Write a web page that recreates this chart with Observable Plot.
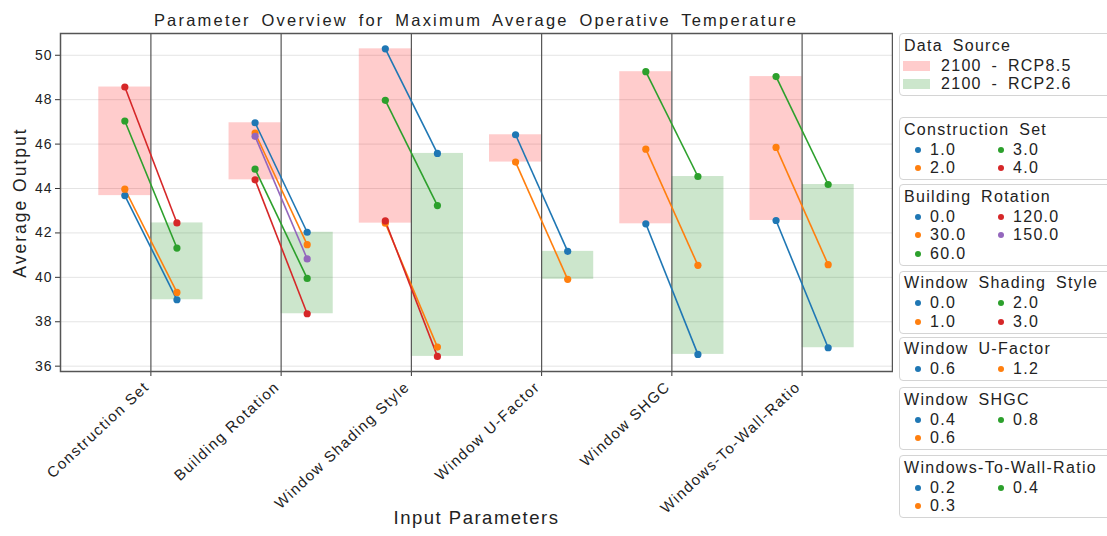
<!DOCTYPE html>
<html><head><meta charset="utf-8">
<script src="https://cdn.jsdelivr.net/npm/d3@7"></script>
<script src="https://cdn.jsdelivr.net/npm/@observablehq/plot@0.6"></script>
<style>
body{margin:0;background:#fff;font-family:"Liberation Sans",Arial,sans-serif;color:#222;}
#wrap{position:relative;width:1107px;height:536px;overflow:hidden;background:#fff;}
#title{position:absolute;left:60px;top:10px;width:832px;text-align:center;font-size:16.5px;line-height:20px;letter-spacing:2.2px;word-spacing:4px;white-space:nowrap;}
#chart{position:absolute;left:0;top:30px;}
.lbox{position:absolute;left:899px;width:240px;border:1px solid #d4d4d4;border-radius:4px;background:#fff;box-sizing:border-box;}
.ltitle,.litem{position:absolute;font-size:16px;line-height:20px;height:20px;letter-spacing:1.3px;word-spacing:4px;white-space:nowrap;}
.ldot{position:absolute;width:6px;height:6px;border-radius:50%;}
.lpatch{position:absolute;width:27px;height:10px;}
</style></head>
<body>
<div id="wrap">
  <div id="title">Parameter Overview for Maximum Average Operative Temperature</div>
  <div id="chart"></div>
  <div id="legend"></div>
</div>
<script>
// ---- data ----
const parameters = ["Construction Set", "Building Rotation", "Window Shading Style", "Window U-Factor", "Window SHGC", "Windows-To-Wall-Ratio"];
const levels = [
  ["1.0", "2.0", "3.0", "4.0"],
  ["0.0", "30.0", "60.0", "120.0", "150.0"],
  ["0.0", "1.0", "2.0", "3.0"],
  ["0.6", "1.2"],
  ["0.4", "0.6", "0.8"],
  ["0.2", "0.3", "0.4"]
];
const rcp85 = [
  [43.68, 43.97, 47.04, 48.57],
  [46.96, 46.50, 44.87, 44.39, 46.35],
  [50.29, 42.44, 47.97, 42.54],
  [46.42, 45.19],
  [42.41, 45.77, 49.26],
  [42.56, 45.85, 49.04]
];
const rcp26 = [
  [38.99, 39.32, 41.32, 42.45],
  [42.03, 41.47, 39.95, 38.36, 40.83],
  [45.58, 36.86, 43.23, 36.44],
  [41.17, 39.91],
  [36.53, 40.54, 44.54],
  [36.83, 40.57, 44.18]
];
const scenarios = ["2100 - RCP8.5", "2100 - RCP2.6"];
const yTicks = [36, 38, 40, 42, 44, 46, 48, 50];

// ---- styles ----
const palette = d3.schemeCategory10;
const scenarioFill = ["#ff0000", "#008000"];
const scenarioOpacity = 0.2;

const pts = [];
parameters.forEach((p, i) => levels[i].forEach((lv, j) => {
  pts.push({i, j, param: p, level: lv, a: rcp85[i][j], b: rcp26[i][j]});
}));
const boxes = parameters.flatMap((p, i) => [
  {i, s: 0, lo: d3.min(rcp85[i]), hi: d3.max(rcp85[i])},
  {i, s: 1, lo: d3.min(rcp26[i]), hi: d3.max(rcp26[i])}
]);
const off = 0.2, half = 0.4;
const idx = d3.range(parameters.length);

const chart = Plot.plot({
  width: 893, height: 506,
  marginLeft: 60, marginRight: 1, marginTop: 3, marginBottom: 165,
  style: {fontFamily: "'Liberation Sans', Arial, sans-serif", color: "#222", background: "#fff"},
  x: {type: "linear", domain: [-0.694, 5.694], axis: null},
  y: {domain: [35.76, 50.98], axis: null},
  color: {type: "ordinal", domain: d3.range(10), range: palette},
  marks: [
    Plot.gridY(yTicks, {stroke: "#e4e4e4", strokeOpacity: 1, strokeWidth: 1}),
    Plot.rect(boxes, {filter: d => d.s === 0, x1: d => d.i - half, x2: d => d.i, y1: "lo", y2: "hi", fill: scenarioFill[0], fillOpacity: scenarioOpacity}),
    Plot.rect(boxes, {filter: d => d.s === 1, x1: d => d.i, x2: d => d.i + half, y1: "lo", y2: "hi", fill: scenarioFill[1], fillOpacity: scenarioOpacity}),
    Plot.ruleX(idx, {stroke: "#555", strokeWidth: 1.2}),
    Plot.link(pts, {x1: d => d.i - off, y1: "a", x2: d => d.i + off, y2: "b", stroke: "j", strokeWidth: 1.6}),
    Plot.dot(pts, {x: d => d.i - off, y: "a", fill: "j", r: 3.6}),
    Plot.dot(pts, {x: d => d.i + off, y: "b", fill: "j", r: 3.6}),
    Plot.axisY(yTicks, {tickSize: 5, tickPadding: 3, fontSize: 14, label: null, stroke: "#333"}),
    Plot.axisX(idx, {tickFormat: () => "", tickSize: 5, label: null, stroke: "#333"}),
    Plot.text(idx, {x: d => d, frameAnchor: "bottom", text: i => parameters[i], rotate: -43, textAnchor: "end", lineAnchor: "middle", dx: -4, dy: 13, fontSize: 15, fill: "#222"}),
    Plot.frame({stroke: "#555", strokeWidth: 1.5}),
    Plot.text(["Average Output"], {frameAnchor: "left", textAnchor: "middle", rotate: -90, dx: -40, fontSize: 17.5, fill: "#222"}),
    Plot.text(["Input Parameters"], {frameAnchor: "bottom", dy: 152, fontSize: 18.5, fill: "#222"})
  ]
});
document.getElementById("chart").appendChild(chart);
// letter spacing to mimic the reference's wider glyph rendering
const svg = d3.select(chart);
svg.selectAll('g[aria-label="y-axis tick label"] text').style("letter-spacing", "1px");
svg.selectAll('g[aria-label="text"] text').each(function() {
  const t = d3.select(this);
  const s = t.text();
  if (s === "Average Output") t.style("letter-spacing", "2px");
  else if (s === "Input Parameters") t.style("letter-spacing", "1.5px");
  else t.style("letter-spacing", "1.4px");
});

// ---- legend (HTML) ----
const legend = document.getElementById("legend");
const boxTops = [33, 117, 184, 270.5, 336.5, 387, 455];
function el(cls, css, text) {
  const d = document.createElement("div");
  d.className = cls;
  Object.assign(d.style, css);
  if (text != null) d.textContent = text;
  return d;
}
const rowY = k => 31.5 + 18.8 * k;
{
  const n = scenarios.length;
  const box = el("lbox", {top: boxTops[0] + "px", height: (rowY(n - 1) + 13) + "px"});
  box.appendChild(el("ltitle", {left: "4px", top: (11.5 - 10) + "px"}, "Data Source"));
  scenarios.forEach((s, k) => {
    box.appendChild(el("lpatch", {left: "3px", top: (rowY(k) - 5) + "px", background: scenarioFill[k], opacity: scenarioOpacity}));
    box.appendChild(el("litem", {left: "41px", top: (rowY(k) - 10) + "px"}, s));
  });
  legend.appendChild(box);
}
parameters.forEach((p, i) => {
  const items = levels[i];
  const nrows = Math.ceil(items.length / 2);
  const box = el("lbox", {top: boxTops[i + 1] + "px", height: (rowY(nrows - 1) + 13) + "px"});
  box.appendChild(el("ltitle", {left: "4px", top: (11.5 - 10) + "px"}, p));
  items.forEach((lv, k) => {
    const col = Math.floor(k / nrows), row = k % nrows;
    const x0 = col * 83;
    box.appendChild(el("ldot", {left: (x0 + 15) + "px", top: (rowY(row) - 3) + "px", background: palette[k]}));
    box.appendChild(el("litem", {left: (x0 + 30) + "px", top: (rowY(row) - 10) + "px"}, lv));
  });
  legend.appendChild(box);
});
</script>
</body></html>
